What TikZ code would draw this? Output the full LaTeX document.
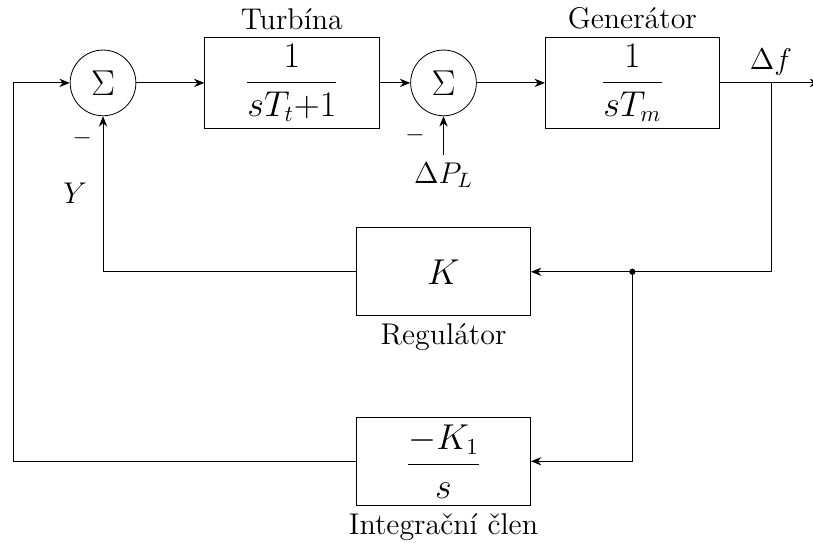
\documentclass[tikz,border=0pt]{standalone}
\usepackage{amsmath,amssymb}
\usepackage{tikz}
\usetikzlibrary{arrows.meta,positioning,calc}

\begin{document}
\begin{tikzpicture}[
    blok/.style={draw, minimum width=2.94cm, minimum height=1.49cm, font=\fontsize{16}{19}\selectfont},
    suma/.style={draw, circle, minimum size=1.11cm, inner sep=0pt, font=\LARGE},
    sig/.style={-{Stealth[length=5pt, width=4pt]}},
    every label/.style={font=\Large}
]
\useasboundingbox (0,0) rectangle (13.73,-9.17);
\begin{scope}
    % hlavni vetev
    \node[suma] (s1) at (1.74,-1.40) {$\Sigma$};
    \node[blok, label={above:Turbína}] (turb) at (4.93,-1.40) {$\dfrac{1}{sT_t{+}1}$};
    \node[suma] (s2) at (7.49,-1.40) {$\Sigma$};
    \node[blok, label={above:Generátor}] (gen) at (10.68,-1.40) {$\dfrac{1}{sT_m}$};
    \coordinate (odb) at (13.02,-1.40);
    \coordinate (vystup) at (13.85,-1.40);
    \node[font=\Large, above=0pt of odb] (df) {$\Delta f$};
    \node[font=\Large] (dpl) at (7.49,-2.96) {$\Delta P_L$};
    \node[font=\large] (m2) at (7.01,-2.28) {$-$};
    % zpetne vazby
    \node[blok, label={below:Regulátor}] (reg) at (7.49,-4.59) {$K$};
    \coordinate (uzel) at (10.68,-4.59);
    \coordinate (pravo) at (13.02,-4.59);
    \node[blok, label={below:Integrační člen}] (int) at (7.49,-7.79) {$\dfrac{-K_1}{s}$};
    \coordinate (levo) at (0.22,-7.79);
    \node[font=\Large] (y) at (1.27,-3.26) {$Y$};
    \node[font=\large] (m1) at (1.39,-2.33) {$-$};

    \draw[sig] (s1) -- (turb);
    \draw[sig] (turb) -- (s2);
    \draw[sig] (s2) -- (gen);
    \draw[sig] (gen) -- (vystup);
    \draw[sig] (dpl) -- (s2);
    \draw[sig] (odb) -- (pravo) -- (reg);
    \draw[sig] (uzel) |- (int);
    \draw[sig] (reg) -| (s1);
    \draw[sig] (int) -- (levo) |- (s1);
    \fill (uzel) circle (1.5pt);
\end{scope}
\end{tikzpicture}
\end{document}
